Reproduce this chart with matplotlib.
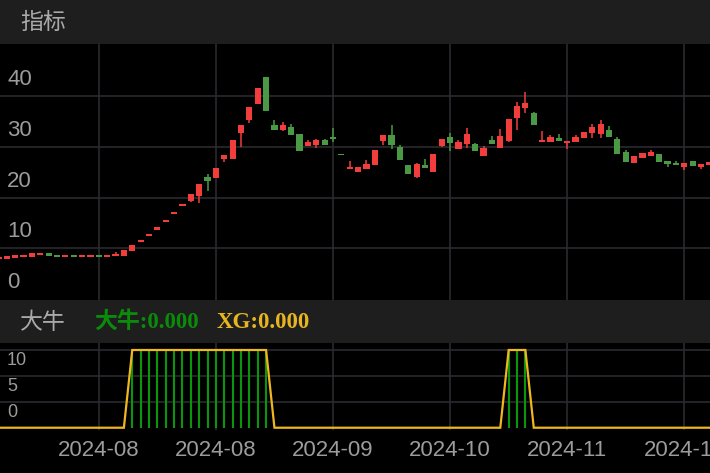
"""Candlestick chart with 大牛 / XG signal panel, dark theme."""
import matplotlib
matplotlib.use("Agg")
import matplotlib.pyplot as plt
from matplotlib.patches import Rectangle
from matplotlib.transforms import offset_copy

plt.rcParams['font.family'] = ['Liberation Sans', 'Noto Sans CJK SC', 'DejaVu Sans']

# ---- data ----
opens = [7.9, 7.95, 8.15, 8.2, 8.35, 8.67, 9.0, 8.74, 8.28, 8.6,
         8.21, 8.34, 8.67, 8.21, 8.41, 8.47, 9.46, 11.23, 12.35, 13.66,
         15.1, 16.68, 18.33, 19.38, 20.36, 24.1, 23.9, 27.5, 27.57, 32.64,
         35.27, 38.36, 43.8, 34.29, 33.24, 33.83, 32.5, 30.08, 30.34, 31.33,
         32.0, 28.64, 25.55, 25.0, 25.7, 26.5, 31.1, 32.3, 30.0, 26.5,
         24.1, 26.5, 25.0, 30.15, 31.86, 29.56, 30.6, 30.54, 28.1, 31.33,
         29.7, 31.2, 35.7, 37.6, 36.6, 30.87, 30.94, 31.8, 30.8, 30.94,
         31.8, 32.77, 32.5, 33.4, 31.5, 28.9, 26.86, 27.78, 28.18, 28.64,
         27.13, 26.86, 26.0, 27.13, 26.0, 26.4]
closes = [8.3, 8.5, 8.6, 8.65, 9.05, 9.12, 8.55, 8.2, 8.6, 8.21,
          8.67, 8.74, 8.28, 8.67, 8.8, 9.66, 10.64, 11.69, 12.81, 14.12,
          15.5, 17.08, 18.78, 20.62, 22.66, 23.2, 25.88, 28.37, 31.26, 34.35,
          37.77, 41.5, 37.04, 33.3, 34.29, 32.38, 29.1, 30.87, 31.33, 30.34,
          31.46, 28.31, 26.07, 26.1, 26.7, 29.4, 32.25, 30.3, 27.3, 24.6,
          26.66, 25.75, 28.6, 31.46, 30.67, 30.94, 32.5, 29.16, 29.8, 30.6,
          32.2, 35.4, 38.0, 38.56, 34.3, 31.33, 31.86, 31.2, 31.2, 32.0,
          33.0, 33.96, 34.5, 31.86, 28.64, 26.93, 28.18, 28.7, 29.03, 27.06,
          26.6, 26.34, 26.86, 26.2, 26.53, 27.06]
highs = [8.3, 8.5, 8.6, 8.65, 9.05, 9.12, 9.0, 8.74, 8.6, 8.6,
         8.67, 8.74, 8.67, 8.67, 9.2, 9.66, 10.64, 11.69, 12.81, 14.12,
         15.5, 17.08, 18.78, 20.62, 22.66, 24.63, 25.88, 28.37, 31.26, 34.35,
         37.77, 41.5, 43.8, 35.27, 34.81, 34.42, 32.5, 31.33, 31.53, 31.46,
         33.63, 28.64, 27.25, 26.1, 27.3, 29.4, 32.25, 34.35, 30.3, 26.5,
         26.86, 27.5, 28.6, 31.46, 32.77, 31.3, 33.76, 30.7, 30.15, 32.1,
         33.5, 35.4, 38.75, 40.8, 36.9, 33.1, 32.3, 32.5, 31.2, 32.25,
         33.0, 34.4, 35.27, 34.1, 32.0, 29.36, 28.18, 28.7, 29.36, 28.64,
         27.13, 27.13, 26.86, 27.13, 26.53, 27.06]
lows = [7.9, 7.95, 8.15, 8.2, 8.35, 8.67, 8.55, 8.2, 8.28, 8.21,
        8.21, 8.34, 8.28, 8.21, 8.41, 8.47, 9.46, 11.23, 12.35, 13.66,
        15.1, 16.68, 18.33, 19.18, 18.98, 21.35, 23.9, 26.98, 27.57, 29.89,
        34.75, 38.36, 37.04, 33.3, 33.04, 32.38, 29.1, 30.08, 29.75, 30.28,
        30.94, 28.31, 25.55, 25.0, 25.7, 26.5, 30.3, 29.6, 27.3, 24.6,
        23.9, 25.75, 25.0, 29.9, 29.1, 29.56, 29.75, 29.16, 28.1, 30.6,
        29.7, 31.0, 33.3, 36.7, 34.3, 30.87, 30.94, 31.07, 29.6, 30.94,
        31.8, 31.8, 31.8, 31.86, 28.64, 26.93, 26.86, 27.78, 28.18, 27.06,
        26.0, 26.34, 25.48, 26.2, 25.7, 26.4]

# 大牛 signal (green sticks) and XG line, one value per candle
daniu = [0, 0, 0, 0, 0, 0, 0, 0, 0, 0,
         0, 0, 0, 0, 0, 0, 15, 15, 15, 15,
         15, 15, 15, 15, 15, 15, 15, 15, 15, 15,
         15, 15, 15, 0, 0, 0, 0, 0, 0, 0,
         0, 0, 0, 0, 0, 0, 0, 0, 0, 0,
         0, 0, 0, 0, 0, 0, 0, 0, 0, 0,
         0, 15, 15, 15, 0, 0, 0, 0, 0, 0,
         0, 0, 0, 0, 0, 0, 0, 0, 0, 0,
         0, 0, 0, 0, 0, 0]
xg = list(daniu)

tick_idx = [12, 26, 40, 54, 68, 82]
tick_labels = ['2024-08', '2024-08', '2024-09', '2024-10', '2024-11', '2024-12']
main_levels = [0, 10, 20, 30, 40]
sub_levels = [0, 5, 10]

# ---- style ----
RED = '#f23d3d'
GREEN = '#4a9a45'
GRID = '#2a2a30'
HEADER = '#1e1e1e'
LABEL = '#9c9c9c'
STICK = '#0a960a'
YELLOW = '#f0b61e'

W, H = 710, 473
fig = plt.figure(figsize=(W / 100, H / 100), dpi=100, facecolor='black')

# header bars
fig.add_artist(Rectangle((0, 1 - 44.3 / H), 1, 44.3 / H, transform=fig.transFigure,
                         color=HEADER, zorder=0))
fig.add_artist(Rectangle((0, 1 - 343 / H), 1, 43 / H, transform=fig.transFigure,
                         color=HEADER, zorder=0))
fig.text(20 / W, 1 - 22 / H, '指标', color='#aaaaaa', fontsize=16.5,
         va='center', ha='left', family=['Noto Sans CJK SC'])
fig.text(20 / W, 1 - 322 / H, '大牛', color='#aaaaaa', fontsize=16.5,
         va='center', ha='left', family=['Noto Sans CJK SC'])
fig.text(94 / W, 1 - 322 / H, '大牛:0.000', color='#0a8c0a', fontsize=16.5,
         fontweight='bold', va='center', ha='left',
         family=['Liberation Serif', 'Noto Sans CJK SC'])
fig.text(217 / W, 1 - 322 / H, 'XG:0.000', color='#e8b420', fontsize=16.5,
         fontweight='bold', va='center', ha='left',
         family=['Liberation Serif', 'Noto Sans CJK SC'])

ax = fig.add_axes([0, 1 - 300 / H, 1, (300 - 44.3) / H], facecolor='black')
sub = fig.add_axes([0, 1 - 430 / H, 1, 87 / H], facecolor='black')

x = list(range(len(opens)))
colors = [RED if c >= o else GREEN for o, c in zip(opens, closes)]
bottoms = [min(o, c) for o, c in zip(opens, closes)]
heights = [max(abs(c - o), 0.35) for o, c in zip(opens, closes)]

ax.vlines(x, lows, highs, colors=colors, linewidth=1.1, zorder=2)
ax.bar(x, heights, bottom=bottoms, width=0.74, color=colors, linewidth=0, zorder=3)

ax.set_xlim(0.19, 85.07)
ax.set_ylim(-0.2, 50.2)
ax.set_xticks(tick_idx)
ax.set_yticks(main_levels[1:])
ax.grid(True, color=GRID, linewidth=1.2, zorder=0)
ax.tick_params(length=0, labelbottom=False, labelleft=False)
for s in ax.spines.values():
    s.set_visible(False)

lab_tr = offset_copy(ax.get_yaxis_transform(), fig=fig, y=16.5, units='dots')
for v in main_levels:
    ax.text(7 / W, v, str(v), transform=lab_tr, color=LABEL, fontsize=16,
            ha='left', va='center')

# signal panel
sig_x = [i for i, v in zip(x, daniu) if v > 0]
sig_v = [v for v in daniu if v > 0]
sub.vlines(sig_x, 0, sig_v, colors=STICK, linewidth=1.5, zorder=2)
sub.plot(x, xg, color=YELLOW, linewidth=1.6, zorder=3, solid_joinstyle='miter')

sub.set_xlim(0.19, 85.07)
sub.set_ylim(-0.44, 16.35)
sub.set_xticks(tick_idx)
sub.set_xticklabels(tick_labels)
sub.set_yticks([5, 10, 15])
sub.grid(True, color=GRID, linewidth=1.2, zorder=0)
sub.tick_params(length=0, labelleft=False, colors=LABEL, labelsize=16, pad=7)
for s in sub.spines.values():
    s.set_visible(False)

sub_tr = offset_copy(sub.get_yaxis_transform(), fig=fig, y=15.5, units='dots')
for v in sub_levels:
    sub.text(7 / W, v, str(v), transform=sub_tr, color=LABEL, fontsize=13,
             ha='left', va='center')

fig.savefig('out.png', dpi=100, facecolor='black')
plt.close(fig)
